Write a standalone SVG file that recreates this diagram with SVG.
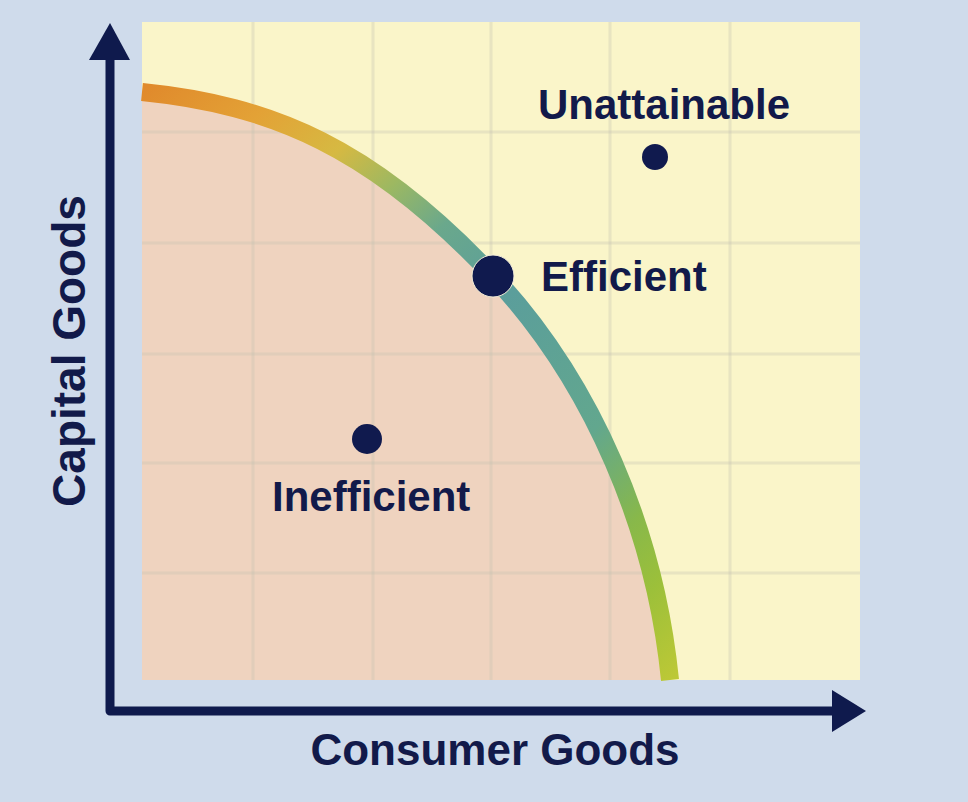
<svg xmlns="http://www.w3.org/2000/svg" width="968" height="802" viewBox="0 0 968 802">
  <style>
    .lbl { font-family: "Liberation Sans", Arial, sans-serif; font-weight: bold; fill: #121a4a; }
    .dot { fill: #101a4e; }
    .grid { stroke: #c4c2b0; stroke-opacity: 0.32; stroke-width: 3; fill: none; }
    .axis { stroke: #0f1a4d; stroke-width: 9; fill: none; stroke-linejoin: round; stroke-linecap: butt; }
  </style>
  <defs>
    <linearGradient id="ppf" gradientUnits="userSpaceOnUse" x1="142" y1="92" x2="670" y2="680">
      <stop offset="0" stop-color="#e08a2c"/>
      <stop offset="0.12" stop-color="#e3a236"/>
      <stop offset="0.22" stop-color="#d6b942"/>
      <stop offset="0.30" stop-color="#9cb862"/>
      <stop offset="0.38" stop-color="#6aa88c"/>
      <stop offset="0.50" stop-color="#5b9e9b"/>
      <stop offset="0.70" stop-color="#62a78e"/>
      <stop offset="0.82" stop-color="#88b84a"/>
      <stop offset="0.90" stop-color="#9cc03a"/>
      <stop offset="1" stop-color="#bcc836"/>
    </linearGradient>
  </defs>
  <rect width="968" height="802" fill="#cfdbeb"/>
  <g id="plot">
    <rect x="142" y="22" width="718" height="658" fill="#faf5c9"/>
    <path d="M142,92 C272,105 373,148 493,276 C593,383 655,530 670,680 L142,680 Z" fill="#efd3bf"/>
    <g class="grid">
      <path d="M253,22 V680 M373,22 V680 M491,22 V680 M610,22 V680 M730,22 V680"/>
      <path d="M142,132 H860 M142,243 H860 M142,354 H860 M142,463 H860 M142,573 H860"/>
    </g>
    <path id="frontier" d="M142,92 C272,105 373,148 493,276 C593,383 655,530 670,680" fill="none" stroke="url(#ppf)" stroke-width="18"/>
  </g>
  <g id="connectors">
    <path class="axis" d="M110,58 V711 H836"/>
    <polygon points="89,60 110,23 130,60" fill="#0f1a4d"/>
    <polygon points="832,690 866,711 832,732" fill="#0f1a4d"/>
  </g>
  <g id="efficient">
    <circle class="dot" cx="493" cy="276" r="21" stroke="#f4eed8" stroke-width="1"/>
    <text class="lbl" x="541" y="291" font-size="42">Efficient</text>
  </g>
  <g id="unattainable">
    <circle class="dot" cx="655" cy="157" r="13"/>
    <text class="lbl" x="538" y="119" font-size="42">Unattainable</text>
  </g>
  <g id="inefficient">
    <circle class="dot" cx="367" cy="439" r="15"/>
    <text class="lbl" x="272" y="511" font-size="42">Inefficient</text>
  </g>
  <g id="x-axis-label">
    <text class="lbl" x="495" y="765" font-size="44" text-anchor="middle">Consumer Goods</text>
  </g>
  <g id="y-axis-label">
    <text class="lbl" transform="translate(85,351) rotate(-90)" x="0" y="0" font-size="46" text-anchor="middle">Capital Goods</text>
  </g>
</svg>
